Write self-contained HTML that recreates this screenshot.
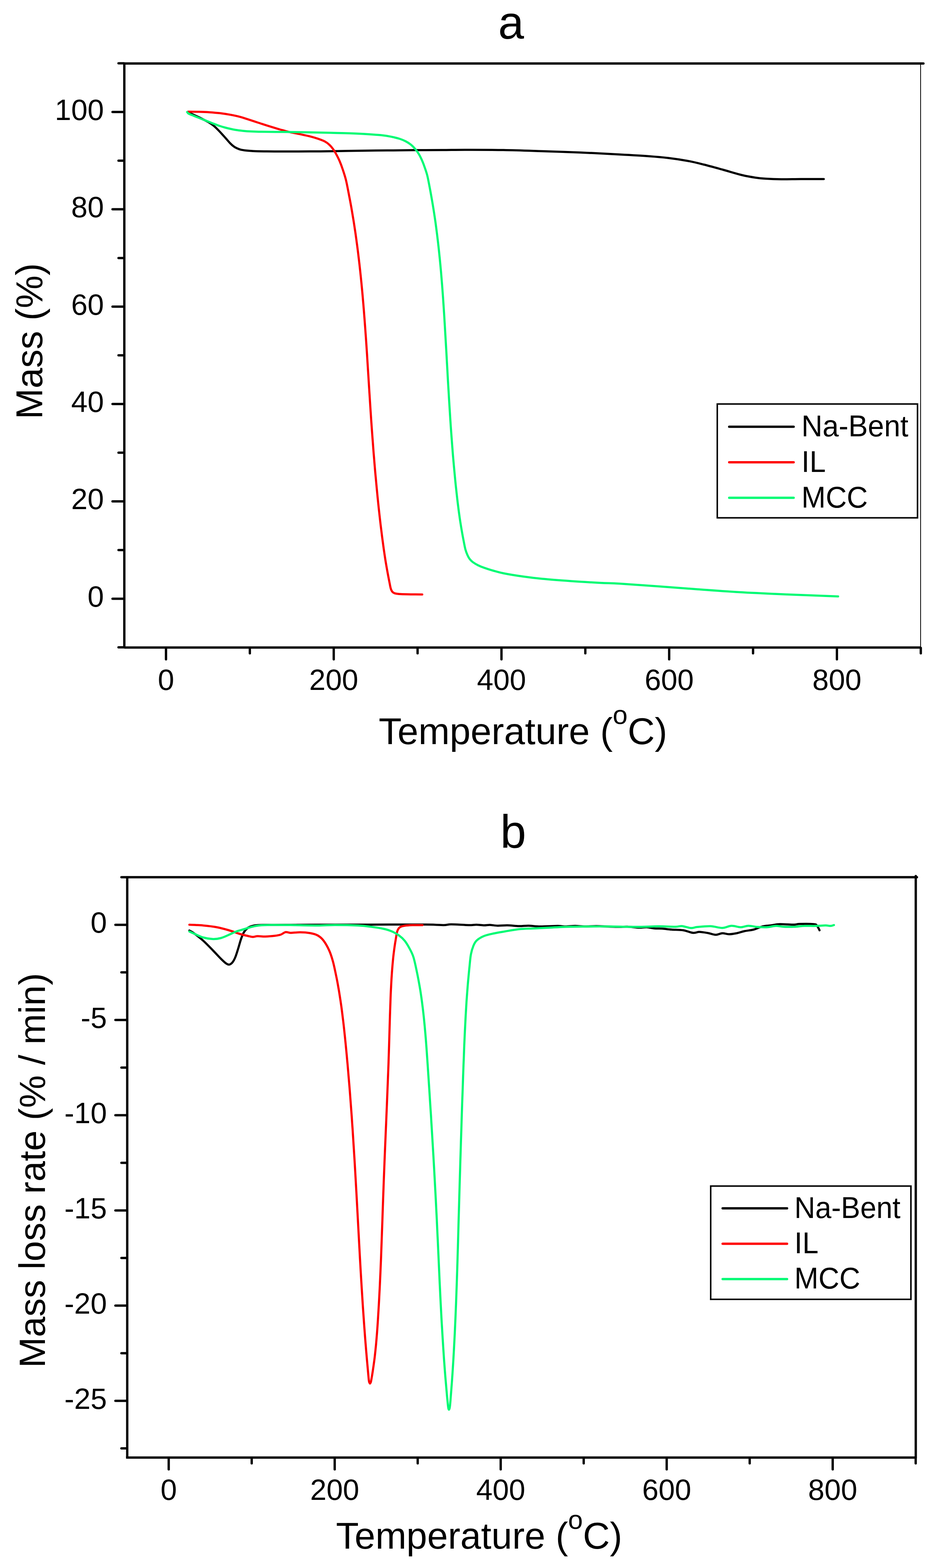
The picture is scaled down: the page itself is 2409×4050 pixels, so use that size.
<!DOCTYPE html>
<html lang="en"><head><meta charset="utf-8"><title>TG and DTG curves</title>
<style>html,body{margin:0;padding:0;background:#fff;}svg{display:block;}text{font-family:'Liberation Sans', sans-serif;fill:#000;}</style>
</head><body>
<svg width="2409" height="4050" viewBox="0 0 2409 4050" role="img" aria-label="TG and DTG curves of Na-Bent, IL and MCC">
<rect x="0" y="0" width="2409" height="4050" fill="#ffffff"/>
<line x1="321.0" y1="164.0" x2="321.0" y2="1672.4" stroke="#000" stroke-width="6.0" stroke-linecap="butt"/>
<line x1="321.0" y1="1672.4" x2="2377.0" y2="1672.4" stroke="#000" stroke-width="6.0" stroke-linecap="butt"/>
<line x1="321.0" y1="164.0" x2="2384.3" y2="164.0" stroke="#000" stroke-width="6.0" stroke-linecap="round"/>
<line x1="2377.0" y1="166.0" x2="2377.0" y2="1672.4" stroke="#000" stroke-width="2.0" stroke-linecap="butt"/>
<line x1="320.0" y1="1672.1" x2="306.0" y2="1672.1" stroke="#000" stroke-width="6.0" stroke-linecap="round"/>
<line x1="320.0" y1="1546.4" x2="290.5" y2="1546.4" stroke="#000" stroke-width="6.0" stroke-linecap="round"/>
<text x="268.4" y="1566.8" font-size="76.0" text-anchor="end">0</text>
<line x1="320.0" y1="1420.7" x2="306.0" y2="1420.7" stroke="#000" stroke-width="6.0" stroke-linecap="round"/>
<line x1="320.0" y1="1295.0" x2="290.5" y2="1295.0" stroke="#000" stroke-width="6.0" stroke-linecap="round"/>
<text x="268.4" y="1315.4" font-size="76.0" text-anchor="end">20</text>
<line x1="320.0" y1="1169.2" x2="306.0" y2="1169.2" stroke="#000" stroke-width="6.0" stroke-linecap="round"/>
<line x1="320.0" y1="1043.5" x2="290.5" y2="1043.5" stroke="#000" stroke-width="6.0" stroke-linecap="round"/>
<text x="268.4" y="1063.9" font-size="76.0" text-anchor="end">40</text>
<line x1="320.0" y1="917.8" x2="306.0" y2="917.8" stroke="#000" stroke-width="6.0" stroke-linecap="round"/>
<line x1="320.0" y1="792.1" x2="290.5" y2="792.1" stroke="#000" stroke-width="6.0" stroke-linecap="round"/>
<text x="268.4" y="812.5" font-size="76.0" text-anchor="end">60</text>
<line x1="320.0" y1="666.4" x2="306.0" y2="666.4" stroke="#000" stroke-width="6.0" stroke-linecap="round"/>
<line x1="320.0" y1="540.6" x2="290.5" y2="540.6" stroke="#000" stroke-width="6.0" stroke-linecap="round"/>
<text x="268.4" y="561.0" font-size="76.0" text-anchor="end">80</text>
<line x1="320.0" y1="414.9" x2="306.0" y2="414.9" stroke="#000" stroke-width="6.0" stroke-linecap="round"/>
<line x1="320.0" y1="289.2" x2="290.5" y2="289.2" stroke="#000" stroke-width="6.0" stroke-linecap="round"/>
<text x="268.4" y="309.6" font-size="76.0" text-anchor="end">100</text>
<line x1="320.0" y1="163.5" x2="306.0" y2="163.5" stroke="#000" stroke-width="6.0" stroke-linecap="round"/>
<line x1="428.6" y1="1673.4" x2="428.6" y2="1702.9" stroke="#000" stroke-width="6.0" stroke-linecap="round"/>
<text x="428.6" y="1781.5" font-size="76.0" text-anchor="middle">0</text>
<line x1="645.1" y1="1673.4" x2="645.1" y2="1687.4" stroke="#000" stroke-width="6.0" stroke-linecap="round"/>
<line x1="861.7" y1="1673.4" x2="861.7" y2="1702.9" stroke="#000" stroke-width="6.0" stroke-linecap="round"/>
<text x="861.7" y="1781.5" font-size="76.0" text-anchor="middle">200</text>
<line x1="1078.2" y1="1673.4" x2="1078.2" y2="1687.4" stroke="#000" stroke-width="6.0" stroke-linecap="round"/>
<line x1="1294.8" y1="1673.4" x2="1294.8" y2="1702.9" stroke="#000" stroke-width="6.0" stroke-linecap="round"/>
<text x="1294.8" y="1781.5" font-size="76.0" text-anchor="middle">400</text>
<line x1="1511.3" y1="1673.4" x2="1511.3" y2="1687.4" stroke="#000" stroke-width="6.0" stroke-linecap="round"/>
<line x1="1727.8" y1="1673.4" x2="1727.8" y2="1702.9" stroke="#000" stroke-width="6.0" stroke-linecap="round"/>
<text x="1727.8" y="1781.5" font-size="76.0" text-anchor="middle">600</text>
<line x1="1944.4" y1="1673.4" x2="1944.4" y2="1687.4" stroke="#000" stroke-width="6.0" stroke-linecap="round"/>
<line x1="2160.9" y1="1673.4" x2="2160.9" y2="1702.9" stroke="#000" stroke-width="6.0" stroke-linecap="round"/>
<text x="2160.9" y="1781.5" font-size="76.0" text-anchor="middle">800</text>
<line x1="2377.5" y1="1673.4" x2="2377.5" y2="1687.4" stroke="#000" stroke-width="6.0" stroke-linecap="round"/>
<path d="M485.6 289.6C488.0 290.8 495.3 294.2 500.0 296.5C504.7 298.8 509.3 300.9 513.9 303.1C518.5 305.3 522.9 307.6 527.4 309.9C531.9 312.2 536.9 314.6 540.9 317.1C544.9 319.6 548.0 321.7 551.6 324.7C555.2 327.7 558.8 331.3 562.4 334.9C566.0 338.5 569.6 342.4 573.2 346.3C576.8 350.2 580.4 354.4 584.0 358.4C587.6 362.4 591.6 367.3 594.8 370.5C597.9 373.7 600.2 375.8 602.9 377.8C605.6 379.8 607.8 381.1 610.9 382.6C614.0 384.1 617.7 385.7 621.7 386.7C625.8 387.7 629.8 388.2 635.2 388.8C640.6 389.4 645.1 389.8 654.1 390.2C663.1 390.6 676.5 390.8 689.1 391.0C701.7 391.2 711.0 391.3 729.5 391.3C748.0 391.3 778.2 391.1 800.0 391.0C821.8 390.9 837.5 390.9 860.0 390.6C882.5 390.3 911.5 389.5 934.8 389.2C958.1 388.9 977.5 388.8 1000.0 388.6C1022.5 388.4 1045.8 388.0 1069.5 387.8C1093.2 387.6 1120.2 387.6 1142.0 387.5C1163.8 387.4 1173.7 387.0 1200.0 387.0C1226.3 387.0 1266.7 386.9 1300.0 387.5C1333.3 388.1 1366.7 389.4 1400.0 390.5C1433.3 391.6 1466.7 392.6 1500.0 394.0C1533.3 395.4 1570.8 397.4 1600.0 399.0C1629.2 400.6 1654.2 402.0 1675.0 403.5C1695.8 405.0 1708.3 406.0 1725.0 408.0C1741.7 410.0 1759.7 412.7 1775.0 415.5C1790.3 418.3 1801.7 421.2 1817.0 425.0C1832.3 428.8 1850.3 433.9 1867.0 438.5C1883.7 443.1 1902.8 449.1 1917.0 452.5C1931.2 455.9 1942.0 457.5 1952.0 459.0C1962.0 460.5 1966.2 460.8 1977.0 461.5C1987.8 462.2 2002.0 462.8 2017.0 463.0C2032.0 463.2 2048.7 462.6 2067.0 462.5C2085.3 462.4 2117.0 462.5 2127.0 462.5" fill="none" stroke="#000" stroke-width="5.5" stroke-linecap="round" stroke-linejoin="round"/>
<path d="M485.6 288.6C490.3 288.6 504.7 288.6 513.9 288.8C523.1 289.0 531.9 289.3 540.9 289.9C549.9 290.5 558.8 291.2 567.8 292.3C576.8 293.4 585.8 294.7 594.8 296.4C603.8 298.1 614.2 300.3 621.7 302.3C629.2 304.3 632.5 305.8 640.0 308.2C647.5 310.6 658.0 314.1 667.0 317.0C676.0 319.9 684.9 322.9 693.9 325.7C702.9 328.5 712.1 331.3 720.9 333.8C729.7 336.3 737.5 338.8 746.5 340.9C755.5 343.0 765.6 344.6 774.8 346.6C784.0 348.6 793.9 350.7 801.7 352.7C809.6 354.7 815.5 356.5 821.9 358.7C828.3 360.9 835.1 363.5 840.0 366.1C844.9 368.7 847.7 371.4 851.0 374.5C854.3 377.6 857.3 381.2 860.0 385.0C862.7 388.8 864.6 391.9 867.4 397.0C870.2 402.1 873.9 409.1 876.8 415.9C879.7 422.6 882.2 429.4 884.9 437.5C887.6 445.6 890.5 454.1 893.1 464.4C895.7 474.7 898.0 487.8 900.3 499.5C902.6 511.2 904.8 522.8 906.9 534.5C908.9 546.2 910.9 558.1 912.8 569.5C914.6 580.9 916.5 593.5 917.9 603.0C919.2 612.5 920.1 618.7 921.1 626.5C922.2 634.3 923.2 641.9 924.2 650.0C925.2 658.1 926.2 666.7 927.2 675.0C928.2 683.3 928.8 688.8 930.0 700.0C931.2 711.2 933.0 728.3 934.3 742.5C935.7 756.7 937.1 773.1 938.1 785.0C939.1 796.9 939.7 804.2 940.4 813.8C941.2 823.4 941.8 831.8 942.6 842.6C943.4 853.4 944.3 866.6 945.2 878.5C946.0 890.5 946.8 902.5 947.6 914.5C948.3 926.4 949.1 938.9 949.8 950.4C950.6 961.9 951.2 972.5 951.9 983.6C952.6 994.7 953.3 1005.7 954.0 1016.8C954.7 1027.9 955.4 1038.9 956.1 1050.0C956.8 1061.1 957.6 1072.2 958.3 1083.3C959.1 1094.4 959.9 1105.6 960.7 1116.7C961.5 1127.8 962.4 1140.0 963.2 1150.0C963.9 1160.0 964.5 1168.0 965.3 1177.0C966.0 1185.9 966.7 1194.9 967.5 1203.9C968.3 1212.9 969.0 1221.9 969.9 1230.8C970.7 1239.8 971.5 1248.8 972.4 1257.8C973.2 1266.8 974.1 1275.8 975.0 1284.8C975.9 1293.7 976.9 1302.7 977.8 1311.7C978.8 1320.7 979.8 1329.7 980.8 1338.7C981.8 1347.6 982.5 1353.9 984.0 1365.6C985.4 1377.3 987.7 1395.3 989.6 1408.8C991.4 1422.3 993.3 1434.8 995.1 1446.5C997.0 1458.2 998.9 1468.9 1000.7 1478.8C1002.5 1488.7 1004.5 1498.8 1005.9 1505.8C1007.3 1512.8 1007.9 1516.8 1009.1 1520.6C1010.3 1524.4 1011.4 1526.7 1013.2 1528.7C1015.0 1530.7 1016.3 1531.7 1019.9 1532.7C1023.5 1533.7 1027.8 1534.2 1034.8 1534.6C1041.8 1535.0 1052.5 1535.1 1061.7 1535.2C1070.9 1535.3 1085.5 1535.4 1090.2 1535.4" fill="none" stroke="#FF0000" stroke-width="5.5" stroke-linecap="round" stroke-linejoin="round"/>
<path d="M483.2 289.3C483.8 290.0 484.1 291.9 487.0 293.5C489.9 295.1 495.9 297.3 500.4 299.1C504.9 300.9 509.4 302.7 513.9 304.5C518.4 306.3 522.9 308.1 527.4 309.9C531.9 311.7 536.4 313.5 540.9 315.3C545.4 317.1 549.8 318.9 554.3 320.6C558.8 322.3 563.3 324.0 567.8 325.5C572.3 327.0 576.8 328.3 581.3 329.5C585.8 330.7 590.3 331.8 594.8 332.8C599.3 333.8 602.8 334.6 608.2 335.5C613.6 336.4 620.4 337.2 627.1 337.9C633.9 338.6 640.6 339.1 648.7 339.5C656.8 339.9 662.1 340.1 675.6 340.3C689.1 340.5 711.5 340.6 729.5 340.8C747.5 341.0 762.7 341.2 783.4 341.6C804.1 342.0 833.2 342.6 853.9 343.1C874.6 343.6 892.1 343.9 907.8 344.5C923.5 345.1 935.6 345.6 948.2 346.4C960.8 347.2 973.0 348.0 983.3 349.1C993.6 350.2 1002.1 351.5 1010.2 353.1C1018.3 354.7 1025.5 356.5 1031.8 358.5C1038.1 360.5 1043.0 362.6 1048.0 365.2C1053.0 367.8 1057.5 370.8 1061.5 374.1C1065.5 377.4 1068.8 380.8 1072.2 384.9C1075.6 388.9 1078.8 393.4 1081.7 398.4C1084.6 403.3 1087.3 409.0 1089.8 414.6C1092.3 420.2 1094.3 425.6 1096.5 432.1C1098.7 438.6 1101.1 445.1 1103.3 453.6C1105.4 462.1 1107.4 473.4 1109.3 483.3C1111.2 493.2 1112.9 502.6 1114.7 512.9C1116.5 523.2 1118.5 535.0 1120.1 545.3C1121.7 555.6 1123.1 565.0 1124.5 574.9C1125.8 584.8 1127.1 594.3 1128.4 604.6C1129.7 614.9 1131.0 626.1 1132.2 636.9C1133.4 647.7 1134.5 658.8 1135.6 669.3C1136.6 679.8 1137.5 689.0 1138.5 700.0C1139.4 711.0 1140.4 723.3 1141.4 735.0C1142.3 746.7 1143.1 758.1 1144.0 770.0C1144.8 781.9 1145.6 794.2 1146.4 806.3C1147.2 818.4 1147.9 830.6 1148.6 842.6C1149.4 854.6 1150.0 866.6 1150.7 878.5C1151.4 890.5 1152.1 902.5 1152.8 914.5C1153.4 926.4 1154.1 938.9 1154.8 950.4C1155.4 961.9 1156.0 972.5 1156.6 983.6C1157.3 994.7 1157.9 1005.7 1158.6 1016.8C1159.2 1027.9 1159.9 1038.9 1160.6 1050.0C1161.3 1061.1 1162.0 1072.2 1162.7 1083.3C1163.4 1094.4 1164.2 1105.6 1165.0 1116.7C1165.8 1127.8 1166.7 1140.0 1167.5 1150.0C1168.2 1160.0 1168.9 1168.0 1169.6 1177.0C1170.4 1185.9 1171.2 1194.9 1172.0 1203.9C1172.8 1212.9 1173.6 1221.9 1174.5 1230.8C1175.4 1239.8 1175.9 1246.1 1177.2 1257.8C1178.5 1269.5 1180.4 1287.4 1182.1 1300.9C1183.7 1314.4 1185.4 1327.0 1187.1 1338.7C1188.8 1350.4 1190.6 1361.1 1192.3 1371.0C1194.0 1380.9 1195.7 1389.9 1197.3 1398.0C1198.9 1406.1 1200.1 1413.4 1201.8 1419.5C1203.5 1425.6 1205.5 1430.4 1207.3 1434.4C1209.1 1438.5 1210.5 1440.9 1212.7 1443.8C1215.0 1446.7 1217.2 1449.2 1220.8 1451.9C1224.4 1454.6 1229.3 1457.5 1234.2 1460.0C1239.1 1462.5 1244.1 1464.5 1250.4 1466.7C1256.7 1469.0 1263.7 1471.2 1272.0 1473.5C1280.3 1475.8 1287.0 1478.1 1300.0 1480.7C1313.0 1483.3 1333.3 1486.6 1350.0 1489.0C1366.7 1491.4 1379.2 1493.0 1400.0 1495.0C1420.8 1497.0 1450.0 1499.2 1475.0 1501.0C1500.0 1502.8 1529.2 1504.4 1550.0 1505.5C1570.8 1506.6 1575.0 1506.0 1600.0 1507.5C1625.0 1509.0 1666.7 1512.1 1700.0 1514.5C1733.3 1516.9 1766.7 1519.6 1800.0 1522.0C1833.3 1524.4 1866.7 1527.0 1900.0 1529.0C1933.3 1531.0 1966.7 1532.5 2000.0 1534.0C2033.3 1535.5 2072.7 1536.9 2100.0 1538.0C2127.3 1539.1 2153.3 1540.1 2164.0 1540.5" fill="none" stroke="#00FA74" stroke-width="5.5" stroke-linecap="round" stroke-linejoin="round"/>
<rect x="1852.0" y="1043.5" width="517.0" height="294.0" fill="#fff" stroke="#000" stroke-width="3.9"/>
<line x1="1882.8" y1="1102.3" x2="2049.2" y2="1102.3" stroke="#000" stroke-width="6.0" stroke-linecap="round"/>
<text transform="translate(2069.3 1127.3) scale(1.000 1.035)" font-size="75.3" text-anchor="start">Na-Bent</text>
<line x1="1882.8" y1="1194.0" x2="2049.2" y2="1194.0" stroke="#FF0000" stroke-width="6.0" stroke-linecap="round"/>
<text transform="translate(2069.3 1219.0) scale(1.000 1.035)" font-size="75.3" text-anchor="start">IL</text>
<line x1="1882.8" y1="1285.7" x2="2049.2" y2="1285.7" stroke="#00FA74" stroke-width="6.0" stroke-linecap="round"/>
<text transform="translate(2069.3 1310.7) scale(1.000 1.035)" font-size="75.3" text-anchor="start">MCC</text>
<text x="1319.5" y="100.0" font-size="120.0" text-anchor="middle">a</text>
<text x="1350.3" y="1921.7" font-size="97.1" text-anchor="middle">Temperature (<tspan font-size="69" dy="-51.6">o</tspan><tspan dy="51.6">C)</tspan></text>
<text transform="translate(108.9 881.2) rotate(-90)" font-size="95.5" text-anchor="middle">Mass (%)</text>
<line x1="328.5" y1="2265.8" x2="328.5" y2="3764.8" stroke="#000" stroke-width="6.0" stroke-linecap="butt"/>
<line x1="325.5" y1="3764.8" x2="2364.5" y2="3764.8" stroke="#000" stroke-width="6.0" stroke-linecap="butt"/>
<line x1="328.5" y1="2265.8" x2="2367.5" y2="2265.8" stroke="#000" stroke-width="6.0" stroke-linecap="round"/>
<line x1="2364.5" y1="2262.8" x2="2364.5" y2="3764.8" stroke="#000" stroke-width="6.0" stroke-linecap="round"/>
<line x1="327.5" y1="2265.8" x2="313.5" y2="2265.8" stroke="#000" stroke-width="6.0" stroke-linecap="round"/>
<line x1="327.5" y1="2388.7" x2="298.0" y2="2388.7" stroke="#000" stroke-width="6.0" stroke-linecap="round"/>
<text x="276.0" y="2409.1" font-size="76.0" text-anchor="end">0</text>
<line x1="327.5" y1="2511.6" x2="313.5" y2="2511.6" stroke="#000" stroke-width="6.0" stroke-linecap="round"/>
<line x1="327.5" y1="2634.6" x2="298.0" y2="2634.6" stroke="#000" stroke-width="6.0" stroke-linecap="round"/>
<text x="276.0" y="2655.0" font-size="76.0" text-anchor="end">-5</text>
<line x1="327.5" y1="2757.5" x2="313.5" y2="2757.5" stroke="#000" stroke-width="6.0" stroke-linecap="round"/>
<line x1="327.5" y1="2880.5" x2="298.0" y2="2880.5" stroke="#000" stroke-width="6.0" stroke-linecap="round"/>
<text x="276.0" y="2900.9" font-size="76.0" text-anchor="end">-10</text>
<line x1="327.5" y1="3003.4" x2="313.5" y2="3003.4" stroke="#000" stroke-width="6.0" stroke-linecap="round"/>
<line x1="327.5" y1="3126.4" x2="298.0" y2="3126.4" stroke="#000" stroke-width="6.0" stroke-linecap="round"/>
<text x="276.0" y="3146.8" font-size="76.0" text-anchor="end">-15</text>
<line x1="327.5" y1="3249.3" x2="313.5" y2="3249.3" stroke="#000" stroke-width="6.0" stroke-linecap="round"/>
<line x1="327.5" y1="3372.3" x2="298.0" y2="3372.3" stroke="#000" stroke-width="6.0" stroke-linecap="round"/>
<text x="276.0" y="3392.7" font-size="76.0" text-anchor="end">-20</text>
<line x1="327.5" y1="3495.2" x2="313.5" y2="3495.2" stroke="#000" stroke-width="6.0" stroke-linecap="round"/>
<line x1="327.5" y1="3618.2" x2="298.0" y2="3618.2" stroke="#000" stroke-width="6.0" stroke-linecap="round"/>
<text x="276.0" y="3638.6" font-size="76.0" text-anchor="end">-25</text>
<line x1="327.5" y1="3741.1" x2="313.5" y2="3741.1" stroke="#000" stroke-width="6.0" stroke-linecap="round"/>
<line x1="435.6" y1="3765.8" x2="435.6" y2="3795.3" stroke="#000" stroke-width="6.0" stroke-linecap="round"/>
<text x="435.6" y="3874.0" font-size="76.0" text-anchor="middle">0</text>
<line x1="649.9" y1="3765.8" x2="649.9" y2="3779.8" stroke="#000" stroke-width="6.0" stroke-linecap="round"/>
<line x1="864.2" y1="3765.8" x2="864.2" y2="3795.3" stroke="#000" stroke-width="6.0" stroke-linecap="round"/>
<text x="864.2" y="3874.0" font-size="76.0" text-anchor="middle">200</text>
<line x1="1078.5" y1="3765.8" x2="1078.5" y2="3779.8" stroke="#000" stroke-width="6.0" stroke-linecap="round"/>
<line x1="1292.8" y1="3765.8" x2="1292.8" y2="3795.3" stroke="#000" stroke-width="6.0" stroke-linecap="round"/>
<text x="1292.8" y="3874.0" font-size="76.0" text-anchor="middle">400</text>
<line x1="1507.1" y1="3765.8" x2="1507.1" y2="3779.8" stroke="#000" stroke-width="6.0" stroke-linecap="round"/>
<line x1="1721.4" y1="3765.8" x2="1721.4" y2="3795.3" stroke="#000" stroke-width="6.0" stroke-linecap="round"/>
<text x="1721.4" y="3874.0" font-size="76.0" text-anchor="middle">600</text>
<line x1="1935.7" y1="3765.8" x2="1935.7" y2="3779.8" stroke="#000" stroke-width="6.0" stroke-linecap="round"/>
<line x1="2150.0" y1="3765.8" x2="2150.0" y2="3795.3" stroke="#000" stroke-width="6.0" stroke-linecap="round"/>
<text x="2150.0" y="3874.0" font-size="76.0" text-anchor="middle">800</text>
<line x1="2364.3" y1="3765.8" x2="2364.3" y2="3779.8" stroke="#000" stroke-width="6.0" stroke-linecap="round"/>
<path d="M489.0 2403.5C490.8 2404.6 494.0 2405.6 500.0 2410.0C506.0 2414.4 516.7 2422.5 525.0 2430.0C533.3 2437.5 542.5 2447.3 550.0 2455.0C557.5 2462.7 564.6 2470.6 570.0 2476.0C575.4 2481.4 578.9 2484.9 582.5 2487.5C586.1 2490.1 588.6 2491.8 591.5 2491.5C594.4 2491.2 597.3 2489.2 600.0 2486.0C602.7 2482.8 605.0 2478.5 607.5 2472.5C610.0 2466.5 612.5 2457.9 615.0 2450.0C617.5 2442.1 620.0 2432.1 622.5 2425.0C625.0 2417.9 627.1 2412.2 630.0 2407.5C632.9 2402.8 636.7 2399.1 640.0 2396.5C643.3 2393.9 645.8 2393.2 650.0 2392.0C654.2 2390.8 656.7 2390.0 665.0 2389.5C673.3 2389.0 677.5 2389.0 700.0 2388.8C722.5 2388.7 758.3 2388.7 800.0 2388.6C841.7 2388.5 900.0 2388.3 950.0 2388.2C1000.0 2388.1 1067.5 2387.8 1100.0 2388.0C1132.5 2388.2 1134.2 2389.6 1145.0 2389.5C1155.8 2389.4 1154.2 2387.5 1165.0 2387.5C1175.8 2387.5 1199.2 2389.3 1210.0 2389.5C1220.8 2389.7 1223.3 2388.4 1230.0 2388.5C1236.7 2388.6 1244.2 2389.9 1250.0 2390.0C1255.8 2390.1 1259.2 2388.8 1265.0 2389.0C1270.8 2389.2 1277.5 2390.8 1285.0 2391.0C1292.5 2391.2 1300.8 2389.8 1310.0 2390.0C1319.2 2390.2 1330.8 2391.8 1340.0 2392.0C1349.2 2392.2 1355.8 2390.8 1365.0 2391.0C1374.2 2391.2 1382.5 2392.9 1395.0 2393.0C1407.5 2393.1 1429.2 2391.5 1440.0 2391.5C1450.8 2391.5 1452.5 2393.0 1460.0 2393.0C1467.5 2393.0 1476.7 2391.5 1485.0 2391.5C1493.3 2391.5 1500.8 2392.9 1510.0 2393.0C1519.2 2393.1 1529.2 2391.9 1540.0 2392.0C1550.8 2392.1 1565.0 2393.2 1575.0 2393.5C1585.0 2393.8 1592.5 2394.0 1600.0 2394.0C1607.5 2394.0 1611.7 2393.2 1620.0 2393.5C1628.3 2393.8 1641.7 2395.8 1650.0 2396.0C1658.3 2396.2 1663.3 2394.7 1670.0 2395.0C1676.7 2395.3 1683.3 2397.4 1690.0 2398.0C1696.7 2398.6 1702.7 2398.0 1710.0 2398.5C1717.3 2399.0 1724.7 2400.3 1733.7 2401.0C1742.7 2401.7 1754.7 2401.4 1764.0 2402.8C1773.3 2404.2 1782.3 2408.8 1789.3 2409.5C1796.3 2410.2 1799.5 2406.9 1806.0 2407.0C1812.5 2407.1 1821.0 2408.8 1828.0 2410.0C1835.0 2411.2 1841.8 2414.4 1848.0 2414.5C1854.2 2414.6 1859.3 2410.8 1865.0 2410.5C1870.7 2410.2 1875.8 2413.0 1882.0 2413.0C1888.2 2413.0 1895.3 2411.8 1902.0 2410.5C1908.7 2409.2 1915.1 2406.6 1922.4 2405.0C1929.7 2403.4 1938.2 2403.1 1946.0 2401.0C1953.8 2398.9 1962.2 2394.4 1969.5 2392.6C1976.8 2390.8 1982.7 2391.2 1990.0 2390.3C1997.3 2389.4 2003.2 2387.3 2013.3 2387.0C2023.4 2386.7 2042.0 2388.4 2050.4 2388.3C2058.8 2388.2 2055.6 2386.8 2064.0 2386.6C2072.4 2386.4 2093.4 2386.3 2101.0 2387.0C2108.6 2387.7 2106.9 2388.4 2109.4 2391.0C2111.9 2393.6 2114.9 2400.8 2116.0 2402.8" fill="none" stroke="#000" stroke-width="5.5" stroke-linecap="round" stroke-linejoin="round"/>
<path d="M489.0 2388.5C495.0 2388.8 513.2 2389.4 525.0 2390.5C536.8 2391.6 549.2 2393.0 560.0 2395.0C570.8 2397.0 580.0 2399.6 590.0 2402.5C600.0 2405.4 611.7 2410.0 620.0 2412.5C628.3 2415.0 634.6 2416.2 640.0 2417.5C645.4 2418.8 648.3 2419.9 652.5 2420.0C656.7 2420.1 659.6 2418.2 665.0 2418.0C670.4 2417.8 677.5 2419.2 685.0 2419.0C692.5 2418.8 703.3 2417.8 710.0 2417.0C716.7 2416.2 720.4 2415.6 725.0 2414.0C729.6 2412.4 733.3 2408.2 737.5 2407.5C741.7 2406.8 743.8 2409.4 750.0 2409.5C756.2 2409.6 766.7 2407.9 775.0 2408.0C783.3 2408.1 792.5 2408.7 800.0 2410.0C807.5 2411.3 814.2 2412.8 820.0 2416.0C825.8 2419.2 830.0 2422.5 835.0 2429.0C840.0 2435.5 845.8 2445.7 850.0 2455.0C854.2 2464.3 856.9 2473.3 860.1 2485.0C863.2 2496.7 866.7 2514.6 868.9 2525.0C871.1 2535.4 871.8 2540.0 873.1 2547.5C874.5 2555.0 875.6 2561.2 876.9 2570.0C878.3 2578.8 880.0 2590.0 881.4 2600.0C882.8 2610.0 883.9 2619.2 885.2 2630.0C886.6 2640.8 888.0 2653.3 889.2 2665.0C890.5 2676.7 891.8 2690.0 892.8 2700.0C893.8 2710.0 894.4 2716.7 895.2 2725.0C895.9 2733.3 896.6 2740.3 897.5 2750.0C898.3 2759.7 899.4 2772.2 900.3 2783.3C901.3 2794.4 902.2 2805.6 903.1 2816.7C903.9 2827.8 904.8 2838.9 905.6 2850.0C906.5 2861.1 907.3 2872.2 908.1 2883.3C908.8 2894.4 909.6 2905.6 910.4 2916.7C911.1 2927.8 911.8 2938.9 912.5 2950.0C913.2 2961.1 913.9 2972.2 914.6 2983.3C915.3 2994.4 916.0 3005.6 916.6 3016.7C917.3 3027.8 917.9 3038.9 918.5 3050.0C919.2 3061.1 919.8 3072.2 920.4 3083.3C921.0 3094.4 921.6 3105.6 922.2 3116.7C922.8 3127.8 923.4 3138.9 924.0 3150.0C924.6 3161.1 925.2 3172.2 925.8 3183.3C926.4 3194.4 927.0 3205.6 927.6 3216.7C928.2 3227.8 928.8 3238.9 929.4 3250.0C930.0 3261.1 930.7 3272.2 931.3 3283.3C932.0 3294.4 932.6 3305.6 933.3 3316.7C934.0 3327.8 934.7 3339.9 935.4 3350.0C936.0 3360.1 936.5 3368.0 937.1 3377.0C937.7 3386.0 938.3 3395.0 939.0 3404.0C939.6 3413.0 940.2 3421.9 940.9 3430.9C941.6 3439.9 942.2 3448.8 942.9 3457.8C943.6 3466.8 944.4 3475.8 945.1 3484.8C945.9 3493.7 946.5 3501.8 947.4 3511.7C948.3 3521.6 949.5 3534.9 950.3 3544.0C951.2 3553.1 951.9 3562.0 952.5 3566.5C953.1 3571.0 953.3 3570.0 953.8 3571.2C954.3 3572.4 954.8 3573.6 955.3 3573.6C955.8 3573.6 956.4 3572.4 956.9 3571.2C957.4 3570.0 957.4 3571.0 958.3 3566.5C959.1 3562.0 960.7 3553.1 962.1 3544.0C963.5 3534.9 965.4 3521.6 966.7 3511.7C968.0 3501.8 968.8 3493.7 969.7 3484.8C970.7 3475.8 971.5 3466.8 972.2 3457.8C973.0 3448.8 973.7 3439.9 974.3 3430.9C975.0 3421.9 975.5 3413.0 976.1 3404.0C976.7 3395.0 977.2 3386.0 977.7 3377.0C978.3 3368.0 978.7 3360.1 979.2 3350.0C979.7 3339.9 980.4 3327.8 980.9 3316.7C981.4 3305.6 981.9 3294.4 982.4 3283.3C982.9 3272.2 983.3 3261.1 983.8 3250.0C984.2 3238.9 984.6 3227.8 985.0 3216.7C985.4 3205.6 985.8 3194.4 986.2 3183.3C986.6 3172.2 987.0 3161.1 987.4 3150.0C987.8 3138.9 988.2 3127.8 988.5 3116.7C988.9 3105.6 989.3 3094.4 989.7 3083.3C990.1 3072.2 990.5 3061.1 990.9 3050.0C991.3 3038.9 991.8 3027.8 992.2 3016.7C992.6 3005.6 993.1 2994.4 993.5 2983.3C994.0 2972.2 994.5 2961.1 994.9 2950.0C995.4 2938.9 995.9 2927.8 996.3 2916.7C996.8 2905.6 997.3 2894.4 997.7 2883.3C998.2 2872.2 998.6 2861.1 999.1 2850.0C999.6 2838.9 1000.0 2827.8 1000.4 2816.7C1000.9 2805.6 1001.3 2794.4 1001.7 2783.3C1002.2 2772.2 1002.6 2759.7 1003.0 2750.0C1003.3 2740.3 1003.5 2733.3 1003.8 2725.0C1004.1 2716.7 1004.3 2710.4 1004.6 2700.0C1004.9 2689.6 1005.3 2675.0 1005.7 2662.5C1006.0 2650.0 1006.4 2637.5 1006.8 2625.0C1007.2 2612.5 1007.6 2600.0 1008.1 2587.5C1008.5 2575.0 1009.0 2562.5 1009.7 2550.0C1010.3 2537.5 1011.0 2525.0 1011.9 2512.5C1012.8 2500.0 1014.1 2485.0 1015.1 2475.0C1016.1 2465.0 1016.8 2460.0 1017.8 2452.5C1018.8 2445.0 1019.8 2437.9 1021.2 2430.0C1022.5 2422.1 1024.0 2410.8 1025.9 2405.0C1027.8 2399.2 1029.3 2397.3 1032.5 2395.0C1035.7 2392.7 1039.6 2391.9 1045.0 2391.0C1050.4 2390.1 1057.3 2389.8 1065.0 2389.5C1072.7 2389.2 1086.7 2389.5 1091.0 2389.5" fill="none" stroke="#FF0000" stroke-width="5.5" stroke-linecap="round" stroke-linejoin="round"/>
<path d="M489.0 2406.0C490.8 2406.8 494.0 2408.4 500.0 2411.0C506.0 2413.6 516.7 2419.1 525.0 2421.5C533.3 2423.9 542.5 2425.2 550.0 2425.5C557.5 2425.8 563.3 2424.8 570.0 2423.0C576.7 2421.2 583.3 2417.8 590.0 2415.0C596.7 2412.2 603.3 2408.5 610.0 2406.0C616.7 2403.5 623.3 2402.0 630.0 2400.0C636.7 2398.0 643.3 2395.6 650.0 2394.0C656.7 2392.4 661.7 2391.1 670.0 2390.3C678.3 2389.5 686.7 2389.2 700.0 2389.0C713.3 2388.8 730.0 2389.1 750.0 2389.3C770.0 2389.6 800.8 2390.5 820.0 2390.5C839.2 2390.5 847.5 2389.2 865.0 2389.2C882.5 2389.2 909.2 2389.7 925.0 2390.5C940.8 2391.3 949.2 2392.6 960.0 2394.0C970.8 2395.4 981.7 2397.2 990.0 2399.0C998.3 2400.8 1003.3 2402.2 1010.0 2405.0C1016.7 2407.8 1024.2 2411.8 1030.0 2416.0C1035.8 2420.2 1040.4 2424.3 1045.0 2430.0C1049.6 2435.7 1053.7 2442.9 1057.5 2450.0C1061.3 2457.1 1064.5 2462.5 1067.6 2472.5C1070.7 2482.5 1073.6 2497.1 1076.3 2510.0C1079.1 2522.9 1082.0 2539.2 1083.9 2550.0C1085.8 2560.8 1086.6 2566.7 1087.8 2575.0C1089.0 2583.3 1090.1 2591.7 1091.1 2600.0C1092.2 2608.3 1093.1 2616.7 1094.0 2625.0C1094.9 2633.3 1095.6 2640.3 1096.5 2650.0C1097.4 2659.7 1098.5 2672.2 1099.4 2683.3C1100.3 2694.4 1101.1 2705.6 1101.9 2716.7C1102.7 2727.8 1103.4 2738.9 1104.2 2750.0C1104.9 2761.1 1105.7 2772.2 1106.4 2783.3C1107.1 2794.4 1107.9 2805.6 1108.6 2816.7C1109.3 2827.8 1110.0 2838.9 1110.7 2850.0C1111.5 2861.1 1112.2 2872.2 1112.9 2883.3C1113.5 2894.4 1114.2 2905.6 1114.9 2916.7C1115.6 2927.8 1116.3 2938.9 1116.9 2950.0C1117.6 2961.1 1118.2 2972.2 1118.9 2983.3C1119.5 2994.4 1120.2 3005.6 1120.8 3016.7C1121.4 3027.8 1122.0 3038.9 1122.6 3050.0C1123.2 3061.1 1123.8 3072.2 1124.4 3083.3C1125.0 3094.4 1125.6 3105.6 1126.1 3116.7C1126.7 3127.8 1127.2 3138.9 1127.8 3150.0C1128.3 3161.1 1128.8 3172.2 1129.3 3183.3C1129.9 3194.4 1130.4 3205.6 1130.9 3216.7C1131.4 3227.8 1131.9 3238.9 1132.4 3250.0C1132.9 3261.1 1133.4 3272.2 1133.9 3283.3C1134.4 3294.4 1134.9 3305.6 1135.4 3316.7C1136.0 3327.8 1136.6 3339.9 1137.0 3350.0C1137.5 3360.1 1137.9 3368.0 1138.4 3377.0C1138.9 3386.0 1139.4 3395.0 1139.8 3404.0C1140.3 3413.0 1140.8 3421.9 1141.4 3430.9C1141.9 3439.9 1142.4 3448.8 1143.0 3457.8C1143.5 3466.8 1144.1 3475.8 1144.7 3484.8C1145.3 3493.7 1145.9 3502.7 1146.5 3511.7C1147.2 3520.7 1147.9 3529.7 1148.5 3538.6C1149.2 3547.6 1149.7 3554.4 1150.7 3565.6C1151.6 3576.8 1153.3 3595.2 1154.2 3606.0C1155.2 3616.8 1156.0 3624.9 1156.6 3630.3C1157.2 3635.7 1157.4 3636.4 1157.8 3638.2C1158.2 3640.0 1158.7 3641.0 1159.2 3641.0C1159.7 3641.0 1160.1 3640.0 1160.6 3638.2C1161.1 3636.4 1161.4 3635.7 1162.0 3630.3C1162.6 3624.9 1163.2 3616.8 1164.0 3606.0C1164.9 3595.2 1166.2 3576.8 1167.1 3565.6C1167.9 3554.4 1168.3 3547.6 1168.9 3538.6C1169.5 3529.7 1170.0 3520.7 1170.6 3511.7C1171.1 3502.7 1171.6 3493.7 1172.1 3484.8C1172.6 3475.8 1173.1 3466.8 1173.5 3457.8C1174.0 3448.8 1174.4 3439.9 1174.8 3430.9C1175.2 3421.9 1175.6 3413.0 1176.0 3404.0C1176.4 3395.0 1176.8 3386.0 1177.1 3377.0C1177.5 3368.0 1177.8 3360.1 1178.1 3350.0C1178.5 3339.9 1178.9 3327.8 1179.3 3316.7C1179.7 3305.6 1180.0 3294.4 1180.4 3283.3C1180.7 3272.2 1181.1 3261.1 1181.4 3250.0C1181.7 3238.9 1182.0 3227.8 1182.4 3216.7C1182.7 3205.6 1183.0 3194.4 1183.3 3183.3C1183.6 3172.2 1183.9 3161.1 1184.2 3150.0C1184.5 3138.9 1184.8 3127.8 1185.2 3116.7C1185.5 3105.6 1185.8 3094.4 1186.1 3083.3C1186.4 3072.2 1186.8 3061.1 1187.1 3050.0C1187.4 3038.9 1187.7 3027.8 1188.1 3016.7C1188.4 3005.6 1188.7 2994.4 1189.1 2983.3C1189.4 2972.2 1189.8 2961.1 1190.1 2950.0C1190.5 2938.9 1190.8 2927.8 1191.2 2916.7C1191.5 2905.6 1191.9 2894.4 1192.2 2883.3C1192.6 2872.2 1193.0 2861.1 1193.3 2850.0C1193.7 2838.9 1194.1 2827.8 1194.5 2816.7C1194.9 2805.6 1195.3 2794.4 1195.6 2783.3C1196.0 2772.2 1196.5 2759.7 1196.8 2750.0C1197.2 2740.3 1197.5 2733.3 1197.8 2725.0C1198.1 2716.7 1198.3 2710.4 1198.7 2700.0C1199.2 2689.6 1199.8 2675.0 1200.4 2662.5C1201.0 2650.0 1201.6 2637.5 1202.3 2625.0C1203.0 2612.5 1203.7 2600.0 1204.5 2587.5C1205.4 2575.0 1206.5 2560.4 1207.3 2550.0C1208.1 2539.6 1208.7 2533.3 1209.5 2525.0C1210.2 2516.7 1210.9 2510.0 1211.9 2500.0C1213.0 2490.0 1214.1 2474.6 1215.9 2465.0C1217.7 2455.4 1220.0 2448.5 1222.5 2442.5C1225.0 2436.5 1226.4 2433.2 1231.0 2429.0C1235.6 2424.8 1242.7 2420.5 1250.0 2417.5C1257.3 2414.5 1266.7 2412.8 1275.0 2411.0C1283.3 2409.2 1289.2 2408.3 1300.0 2406.5C1310.8 2404.7 1326.7 2401.4 1340.0 2400.0C1353.3 2398.6 1366.7 2398.7 1380.0 2398.0C1393.3 2397.3 1406.7 2396.7 1420.0 2396.0C1433.3 2395.3 1442.5 2394.5 1460.0 2394.0C1477.5 2393.5 1505.8 2393.2 1525.0 2393.0C1544.2 2392.8 1554.2 2392.8 1575.0 2393.0C1595.8 2393.2 1629.2 2394.1 1650.0 2394.0C1670.8 2393.9 1684.4 2392.7 1700.0 2392.6C1715.6 2392.5 1733.7 2393.8 1743.8 2393.7C1753.9 2393.6 1753.9 2391.4 1760.6 2392.0C1767.3 2392.6 1777.3 2396.6 1784.0 2397.0C1790.7 2397.4 1792.5 2395.1 1801.0 2394.3C1809.5 2393.5 1824.1 2391.9 1834.8 2392.3C1845.5 2392.7 1856.0 2396.9 1865.0 2396.7C1874.0 2396.5 1880.8 2391.6 1888.7 2391.3C1896.6 2391.0 1905.0 2395.0 1912.3 2395.0C1919.6 2395.0 1925.2 2391.4 1932.5 2391.3C1939.8 2391.2 1948.2 2393.7 1956.0 2394.3C1963.8 2394.9 1971.7 2395.4 1979.6 2395.0C1987.5 2394.6 1995.9 2391.8 2003.2 2391.6C2010.5 2391.4 2015.5 2393.3 2023.4 2393.7C2031.3 2394.0 2041.4 2394.0 2050.4 2393.7C2059.4 2393.3 2068.4 2391.9 2077.4 2391.6C2086.4 2391.2 2095.3 2391.8 2104.3 2391.6C2113.3 2391.4 2124.6 2390.3 2131.3 2390.3C2138.0 2390.3 2141.0 2391.8 2144.7 2391.6C2148.3 2391.4 2151.8 2389.7 2153.2 2389.3" fill="none" stroke="#00FA74" stroke-width="5.5" stroke-linecap="round" stroke-linejoin="round"/>
<rect x="1835.0" y="3063.5" width="517.0" height="292.6" fill="#fff" stroke="#000" stroke-width="3.9"/>
<line x1="1865.8" y1="3121.1" x2="2032.2" y2="3121.1" stroke="#000" stroke-width="6.0" stroke-linecap="round"/>
<text transform="translate(2051.0 3145.8) scale(1.000 1.035)" font-size="74.7" text-anchor="start">Na-Bent</text>
<line x1="1865.8" y1="3212.4" x2="2032.2" y2="3212.4" stroke="#FF0000" stroke-width="6.0" stroke-linecap="round"/>
<text transform="translate(2051.0 3237.1) scale(1.000 1.035)" font-size="74.7" text-anchor="start">IL</text>
<line x1="1865.8" y1="3303.7" x2="2032.2" y2="3303.7" stroke="#00FA74" stroke-width="6.0" stroke-linecap="round"/>
<text transform="translate(2051.0 3328.4) scale(1.000 1.035)" font-size="74.7" text-anchor="start">MCC</text>
<text x="1325.0" y="2189.3" font-size="120.0" text-anchor="middle">b</text>
<text x="1237.0" y="4000.2" font-size="96.3" text-anchor="middle">Temperature (<tspan font-size="68.5" dy="-51.4">o</tspan><tspan dy="51.4">C)</tspan></text>
<text transform="translate(116.0 3023.0) rotate(-90)" font-size="95.1" text-anchor="middle">Mass loss rate (% / min)</text>
</svg></body></html>
